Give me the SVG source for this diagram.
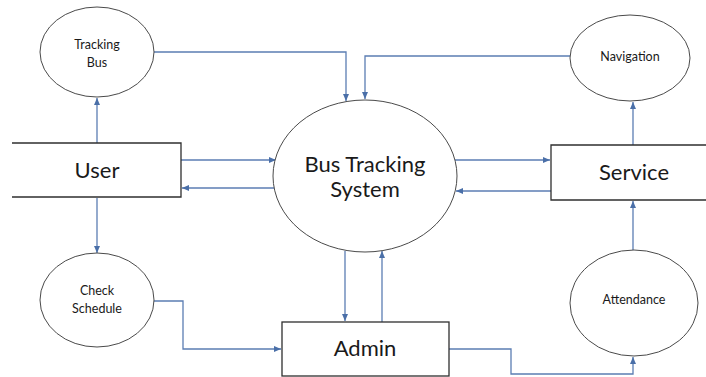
<svg xmlns="http://www.w3.org/2000/svg" width="706" height="377" viewBox="0 0 706 377">
<style>
.bg{fill:#ffffff}
.proc{fill:#ffffff;stroke:#4a4a4a;stroke-width:1}
.ent{fill:#ffffff;stroke:#2f2f2f;stroke-width:1.3}
.conn path{fill:none;stroke:#5b7db3;stroke-width:1.3}
.t{font-family:Lato,"Open Sans","Liberation Sans",sans-serif;fill:#1a1a1a;text-anchor:middle}
.big{font-size:22px}
.sm{font-size:12.5px}
</style>
<defs>
<marker id="ah" markerUnits="userSpaceOnUse" markerWidth="7" markerHeight="6" refX="7" refY="3" orient="auto">
<path d="M0,0 L7,3 L0,6 z" fill="#4a6fa8"/>
</marker>
</defs>
<rect class="bg" x="0" y="0" width="706" height="377"/>
<g class="conn">
<path d="M97,143 V98" marker-end="url(#ah)"/>
<path d="M154,52 H346 V101" marker-end="url(#ah)"/>
<path d="M570,56 H365 V99" marker-end="url(#ah)"/>
<path d="M633,145 V102" marker-end="url(#ah)"/>
<path d="M181,160 H276" marker-end="url(#ah)"/>
<path d="M274,188 H182" marker-end="url(#ah)"/>
<path d="M455,160 H550" marker-end="url(#ah)"/>
<path d="M551,191 H456" marker-end="url(#ah)"/>
<path d="M97,198 V253" marker-end="url(#ah)"/>
<path d="M154,301 H183 V349 H281" marker-end="url(#ah)"/>
<path d="M345,251 V321" marker-end="url(#ah)"/>
<path d="M382,322 V251" marker-end="url(#ah)"/>
<path d="M633,250 V201" marker-end="url(#ah)"/>
<path d="M449,349 H511 V374 H633 V357" marker-end="url(#ah)"/>
</g>
<g id="tracking-bus">
<ellipse class="proc" cx="97" cy="52" rx="57" ry="45"/>
<text class="t sm" x="97" y="49">Tracking</text>
<text class="t sm" x="97" y="67">Bus</text>
</g>
<g id="navigation">
<ellipse class="proc" cx="630" cy="58" rx="60" ry="43"/>
<text class="t sm" x="630" y="61">Navigation</text>
</g>
<g id="bus-tracking-system">
<ellipse class="proc" cx="365" cy="176" rx="92" ry="76"/>
<text class="t big" x="365" y="172">Bus Tracking</text>
<text class="t big" x="365" y="197">System</text>
</g>
<g id="user">
<path class="ent" d="M12,143 H181 V197 H12"/>
<text class="t big" x="97" y="178">User</text>
</g>
<g id="service">
<path class="ent" d="M706,145 H551 V200 H706"/>
<text class="t big" x="634" y="180">Service</text>
</g>
<g id="check-schedule">
<ellipse class="proc" cx="97" cy="300" rx="57" ry="47"/>
<text class="t sm" x="97" y="295">Check</text>
<text class="t sm" x="97" y="313">Schedule</text>
</g>
<g id="attendance">
<ellipse class="proc" cx="634" cy="303" rx="64" ry="53"/>
<text class="t sm" x="634" y="304">Attendance</text>
</g>
<g id="admin">
<rect class="ent" x="282" y="322" width="167" height="54"/>
<text class="t big" x="365" y="356">Admin</text>
</g>
</svg>
